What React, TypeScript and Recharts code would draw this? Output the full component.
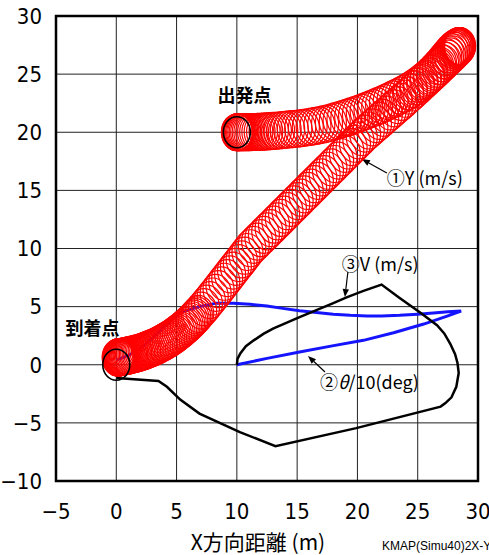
import React from 'react';
import {
  ScatterChart, Scatter, XAxis, YAxis, CartesianGrid, ReferenceArea, ReferenceLine, ReferenceDot,
} from 'recharts';

type Pt = [number, number];

const xTicks = [-5, 0, 5, 10, 15, 20, 25, 30];
const yTicks = [-10, -5, 0, 5, 10, 15, 20, 25, 30];

// ①Y : ship positions, outbound leg (出発点 -> turn at upper right)
const trackOut: Pt[] = [
  [10.0, 20.0], [10.02, 20.0], [10.05, 20.0], [10.09, 20.0], [10.14, 20.0], [10.2, 20.0], [10.27, 20.0],
  [10.35, 20.0], [10.44, 20.0], [10.54, 20.0], [10.65, 20.0], [10.77, 20.0], [10.9, 20.0], [11.04, 20.01],
  [11.19, 20.01], [11.35, 20.02], [11.52, 20.02], [11.7, 20.03], [11.89, 20.04], [12.09, 20.05], [12.3, 20.06],
  [12.52, 20.07], [12.75, 20.09], [12.99, 20.11], [13.24, 20.13], [13.5, 20.15], [13.77, 20.18], [14.05, 20.21],
  [14.34, 20.24], [14.64, 20.27], [14.94, 20.3], [15.25, 20.34], [15.56, 20.38], [15.88, 20.43], [16.2, 20.48],
  [16.52, 20.54], [16.84, 20.6], [17.16, 20.67], [17.48, 20.75], [17.8, 20.84], [18.12, 20.94], [18.44, 21.03],
  [18.76, 21.13], [19.08, 21.23], [19.4, 21.34], [19.72, 21.45], [20.04, 21.57], [20.36, 21.69], [20.68, 21.82],
  [21.0, 21.95], [21.32, 22.08], [21.64, 22.22], [21.96, 22.36], [22.28, 22.51], [22.6, 22.66], [22.92, 22.82],
  [23.24, 22.98], [23.56, 23.15], [23.88, 23.33], [24.2, 23.52], [24.51, 23.72], [24.82, 23.93], [25.12, 24.15],
  [25.41, 24.38], [25.69, 24.62], [25.96, 24.87], [26.22, 25.13], [26.47, 25.4], [26.71, 25.67], [26.94, 25.94],
  [27.16, 26.21], [27.37, 26.47], [27.56, 26.71], [27.74, 26.92], [27.9, 27.08], [28.04, 27.2], [28.16, 27.29],
  [28.26, 27.35], [28.34, 27.39], [28.4, 27.41], [28.45, 27.42], [28.49, 27.42], [28.52, 27.41],
];

// ①Y : return leg (turn -> 到着点)
const trackBack: Pt[] = [
  [28.47, 27.36], [28.42, 27.3], [28.35, 27.22], [28.26, 27.12], [28.15, 27.0], [28.02, 26.86], [27.87, 26.7],
  [27.7, 26.53], [27.51, 26.34], [27.31, 26.14], [27.1, 25.93], [26.88, 25.71], [26.65, 25.48], [26.41, 25.24],
  [26.16, 25.0], [25.9, 24.75], [25.63, 24.49], [25.36, 24.23], [25.08, 23.96], [24.8, 23.69], [24.52, 23.42],
  [24.23, 23.15], [23.94, 22.88], [23.64, 22.61], [23.34, 22.34], [23.04, 22.06], [22.74, 21.79], [22.44, 21.52],
  [22.14, 21.24], [21.84, 20.97], [21.54, 20.7], [21.24, 20.42], [20.94, 20.15], [20.64, 19.88], [20.36, 19.59],
  [20.08, 19.3], [19.8, 19.01], [19.52, 18.72], [19.24, 18.43], [18.96, 18.14], [18.68, 17.85], [18.4, 17.56],
  [18.12, 17.27], [17.84, 16.98], [17.56, 16.69], [17.28, 16.4], [17.0, 16.11], [16.72, 15.82], [16.44, 15.53],
  [16.16, 15.24], [15.88, 14.95], [15.6, 14.66], [15.32, 14.37], [15.04, 14.08], [14.76, 13.79], [14.48, 13.5],
  [14.2, 13.21], [13.92, 12.92], [13.64, 12.63], [13.36, 12.34], [13.08, 12.05], [12.8, 11.76], [12.52, 11.47],
  [12.24, 11.18], [11.96, 10.89], [11.68, 10.6], [11.4, 10.31], [11.12, 10.02], [10.88, 9.7], [10.64, 9.38],
  [10.4, 9.06], [10.16, 8.74], [9.92, 8.42], [9.68, 8.1], [9.44, 7.78], [9.2, 7.46], [8.96, 7.14], [8.72, 6.82],
  [8.48, 6.5], [8.24, 6.18], [8.0, 5.87], [7.76, 5.56], [7.52, 5.25], [7.28, 4.95], [7.04, 4.66], [6.8, 4.38],
  [6.68, 4.24], [6.55, 4.1], [6.42, 3.96], [6.3, 3.83], [6.17, 3.7], [6.04, 3.57], [5.91, 3.44], [5.78, 3.32],
  [5.65, 3.2], [5.51, 3.08], [5.38, 2.96], [5.24, 2.85], [5.1, 2.74], [4.96, 2.63], [4.82, 2.52], [4.68, 2.42],
  [4.54, 2.32], [4.4, 2.23], [4.26, 2.14], [4.11, 2.05], [3.97, 1.96], [3.82, 1.88], [3.68, 1.8], [3.53, 1.72],
  [3.39, 1.64], [3.24, 1.57], [3.1, 1.5], [2.95, 1.44], [2.81, 1.38], [2.67, 1.32], [2.53, 1.26], [2.4, 1.21],
  [2.27, 1.16], [2.14, 1.11], [2.01, 1.07], [1.89, 1.03], [1.77, 0.99], [1.65, 0.96], [1.54, 0.93], [1.43, 0.9],
  [1.32, 0.87], [1.22, 0.85], [1.12, 0.82], [1.03, 0.8], [0.94, 0.78], [0.86, 0.76], [0.78, 0.74], [0.71, 0.73],
  [0.64, 0.71], [0.58, 0.7], [0.52, 0.69], [0.47, 0.68], [0.42, 0.67], [0.38, 0.66], [0.34, 0.65], [0.3, 0.65],
  [0.27, 0.64], [0.24, 0.64], [0.21, 0.63], [0.19, 0.63], [0.17, 0.63], [0.15, 0.63], [0.13, 0.62], [0.12, 0.62],
];

// ③V (m/s)
const speedV: Pt[] = [
  [10.0, 0.0], [10.05, 0.5], [10.3, 1.0], [10.75, 1.6], [11.4, 2.1], [12.2, 2.65], [13.0, 3.1], [14.1, 3.6],
  [15.2, 4.1], [16.6, 4.7], [18.0, 5.3], [19.1, 5.8], [20.5, 6.35], [22.0, 6.9], [23.5, 5.75], [25.2, 4.5],
  [26.6, 3.4], [27.2, 2.7], [27.7, 1.8], [28.1, 0.9], [28.3, 0.15], [28.4, -0.7], [28.2, -1.9], [27.8, -2.8],
  [27.3, -3.3], [26.9, -3.6], [19.9, -5.45], [13.2, -7.0], [10.25, -5.8], [6.9, -4.2], [5.3, -3.0], [4.2, -1.9],
  [3.5, -1.4], [0.0, -1.15],
];

// ②θ/10 (deg)
const thetaDeg: Pt[] = [
  [10.0, 0.0], [12.5, 0.55], [15.2, 1.1], [17.8, 1.6], [20.5, 2.1], [23.0, 2.75], [25.5, 3.5], [27.5, 4.2],
  [28.3, 4.5], [28.6, 4.62], [27.5, 4.55], [26.3, 4.45], [25.0, 4.35], [23.5, 4.25], [22.0, 4.2], [20.8, 4.2],
  [19.4, 4.25], [18.0, 4.35], [16.6, 4.5], [15.2, 4.65], [13.8, 4.85], [12.5, 5.05], [11.1, 5.2], [9.7, 5.3],
  [8.3, 5.3], [6.9, 5.0], [5.3, 4.5], [4.2, 3.5], [3.0, 2.3], [2.0, 1.4], [1.0, 0.8], [0.0, 0.4],
];

// departure / arrival positions
const startEnd: Pt[] = [[10, 20], [0, 0]];

const toXY = (pts: Pt[]) => pts.map(([x, y]) => ({ x, y }));

const NARROW = '"Liberation Sans Narrow", "Arial Narrow", "DejaVu Sans Condensed", sans-serif';
const JP = '"Noto Sans CJK JP", sans-serif';

const fmt = (v: number) => (v < 0 ? `\u2212${-v}` : `${v}`);

const Arrow = (p: any) => {
  const { x1, y1, x2, y2 } = p;
  const a = Math.atan2(y2 - y1, x2 - x1);
  const len = 8;
  const half = 3.2;
  const bx = x2 - len * Math.cos(a);
  const by = y2 - len * Math.sin(a);
  const tri = `${x2},${y2} ${bx + half * Math.sin(a)},${by - half * Math.cos(a)} ${bx - half * Math.sin(a)},${by + half * Math.cos(a)}`;
  return (
    <g>
      <line x1={x1} y1={y1} x2={bx} y2={by} stroke="#000" strokeWidth={1.2} />
      <polygon points={tri} fill="#000" />
    </g>
  );
};

const textShape = (content: React.ReactNode, anchor: 'start' | 'middle', size: number, bold = false) =>
  (p: any) => (
    <text
      x={p.cx}
      y={p.cy}
      textAnchor={anchor}
      dominantBaseline="central"
      fontSize={size}
      fontWeight={bold ? 700 : 400}
      fontFamily={JP}
      fill="#000"
    >
      {content}
    </text>
  );

const noMark = () => <g />;

const ring = (p: any) => (
  <ellipse cx={p.cx} cy={p.cy} rx={15.5} ry={18.5} fill="none" stroke="#ff0000" strokeWidth={1.2} />
);

export default function App() {
  return (
    <div style={{ position: 'absolute', left: 0, top: 0, width: 489, height: 555, overflow: 'hidden', background: '#fff' }}>
      <ScatterChart width={489} height={555} margin={{ top: 16, right: 11, bottom: 0, left: 0 }}>
        <CartesianGrid stroke="#222" strokeWidth={1} />
        <XAxis
          type="number"
          dataKey="x"
          domain={[-5, 30]}
          ticks={xTicks}
          tickFormatter={fmt}
          axisLine={false}
          tickLine={false}
          tickSize={0}
          tickMargin={22}
          height={74}
          interval={0}
          tick={{ fill: '#000', fontSize: 22, fontFamily: NARROW }}
          label={{
            content: ({ viewBox }: any) => (
              <text x={viewBox.x + viewBox.width / 2 - 9} y={viewBox.y + 69} textAnchor="middle"
                fontSize={21} fontFamily={JP} fill="#000">X方向距離 (m)</text>
            ),
          }}
        />
        <YAxis
          type="number"
          dataKey="y"
          domain={[-10, 30]}
          ticks={yTicks}
          tickFormatter={fmt}
          axisLine={false}
          tickLine={false}
          tickSize={0}
          tickMargin={14}
          width={56}
          interval={0}
          tick={{ fill: '#000', fontSize: 22, fontFamily: NARROW }}
        />

        <Scatter data={toXY(thetaDeg)} fill="none" shape={noMark}
          line={{ stroke: '#1414ff', strokeWidth: 3 }} isAnimationActive={false} />
        <Scatter data={toXY(trackOut)} fill="none" isAnimationActive={false} shape={ring} />
        <Scatter data={toXY(trackBack)} fill="none" isAnimationActive={false} shape={ring} />
        <Scatter data={toXY(speedV)} fill="none" shape={noMark}
          line={{ stroke: '#000', strokeWidth: 2.5 }} isAnimationActive={false} />
        <Scatter data={toXY(startEnd)} fill="none" isAnimationActive={false}
          shape={(p: any) => <ellipse cx={p.cx} cy={p.cy} rx={13.5} ry={15.5} fill="none" stroke="#000" strokeWidth={1.6} />} />

        <ReferenceArea x1={-5} x2={30} y1={-10} y2={30} fill="none" stroke="#000" strokeWidth={2.5} fillOpacity={0} />

        <ReferenceLine segment={[{ x: 22.44, y: 16.49 }, { x: 20.37, y: 17.7 }]} shape={Arrow} />
        <ReferenceLine segment={[{ x: 19.21, y: 7.98 }, { x: 18.96, y: 5.83 }]} shape={Arrow} />
        <ReferenceLine segment={[{ x: 17.31, y: -0.62 }, { x: 15.9, y: 0.75 }]} shape={Arrow} />

        <ReferenceDot x={10.63} y={23.25} shape={textShape('出発点', 'middle', 18, true)} />
        <ReferenceDot x={-1.97} y={3.29} shape={textShape('到着点', 'middle', 18, true)} />
        <ReferenceDot x={22.44} y={16.15} shape={textShape('①Y (m/s)', 'start', 18)} />
        <ReferenceDot x={18.71} y={8.75} shape={textShape('③V (m/s)', 'start', 18)} />
        <ReferenceDot x={16.89} y={-1.4} shape={textShape(
          <>②<tspan fontStyle="italic">θ</tspan>/10(deg)</>, 'start', 18)} />
      </ScatterChart>
      <div style={{
        position: 'absolute', left: 382, top: 539, fontSize: 12, fontFamily: '"Liberation Sans", Arial, sans-serif',
        whiteSpace: 'nowrap', color: '#000',
      }}>
        KMAP(Simu40)2X-Y2
      </div>
    </div>
  );
}
